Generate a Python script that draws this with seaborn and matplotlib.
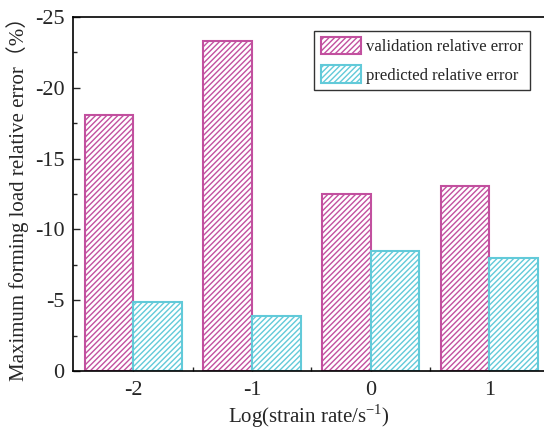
import numpy as np
import pandas as pd
import matplotlib
matplotlib.use("Agg")
import matplotlib.pyplot as plt
from matplotlib.patches import Patch
from matplotlib.ticker import MultipleLocator, FixedLocator
import seaborn as sns

categories = ["-2", "-1", "0", "1"]
validation = [-18.1, -23.3, -12.5, -13.1]
predicted = [-4.9, -3.9, -8.5, -8.0]
series_names = ["validation relative error", "predicted relative error"]
colors = ["#C2509F", "#62CAD9"]

df = pd.DataFrame({
    "rate": categories * 2,
    "value": validation + predicted,
    "series": [series_names[0]] * 4 + [series_names[1]] * 4,
})

sns.set_style("ticks")
plt.rcParams["font.family"] = ["Liberation Serif", "Noto Sans CJK SC"]
plt.rcParams["axes.unicode_minus"] = False
plt.rcParams["hatch.linewidth"] = 1.0
plt.rcParams["mathtext.fontset"] = "custom"
plt.rcParams["mathtext.rm"] = "Liberation Serif"

HATCH = "//////"

fig = plt.figure(figsize=(5.44, 4.30), dpi=100)
ax = fig.add_axes([73 / 544, (430 - 371) / 430, (545 - 73) / 544, (371 - 17) / 430])

sns.barplot(data=df, x="rate", y="value", hue="series", order=categories,
            hue_order=series_names, palette=colors, width=0.82, ax=ax,
            legend=False, errorbar=None)

for cont, col in zip(ax.containers, colors):
    for p in cont:
        p.set_facecolor("white")
        p.set_edgecolor(col)
        p.set_hatch(HATCH)
        p.set_linewidth(1.5)

ax.set_xlim(-0.51, 3.47)
ax.set_ylim(0, -25)
ax.set_yticks([0, -5, -10, -15, -20, -25])
ax.yaxis.set_minor_locator(MultipleLocator(2.5))
ax.xaxis.set_minor_locator(FixedLocator([0.5, 1.5, 2.5]))
ax.tick_params(axis="both", which="both", direction="in", labelsize=16,
               top=False, right=False)
ax.tick_params(axis="both", which="major", length=5, width=1)
ax.tick_params(axis="both", which="minor", length=3, width=1)
ax.tick_params(axis="x", pad=7)
ax.tick_params(axis="y", pad=6)
for s in ["left", "bottom", "top"]:
    ax.spines[s].set_linewidth(1.2)
    ax.spines[s].set_color("black")
ax.spines["right"].set_visible(False)

ax.set_xlabel("Log(strain rate/s$^{-1}$)", fontsize=15, labelpad=2)
ax.set_ylabel("Maximum forming load relative error（%）", fontsize=15, labelpad=4)

handles = [Patch(facecolor="white", edgecolor=c, hatch=HATCH, linewidth=1.5,
                 label=n) for c, n in zip(colors, series_names)]
leg = ax.legend(handles=handles, loc="upper right", bbox_to_anchor=(0.985, 0.985),
                fontsize=12, frameon=True, fancybox=False, edgecolor="black",
                handlelength=2.4, handleheight=1.2, borderpad=0.4,
                labelspacing=0.6, handletextpad=0.3)
leg.get_frame().set_linewidth(1.0)

fig.savefig("out.png", dpi=100)
